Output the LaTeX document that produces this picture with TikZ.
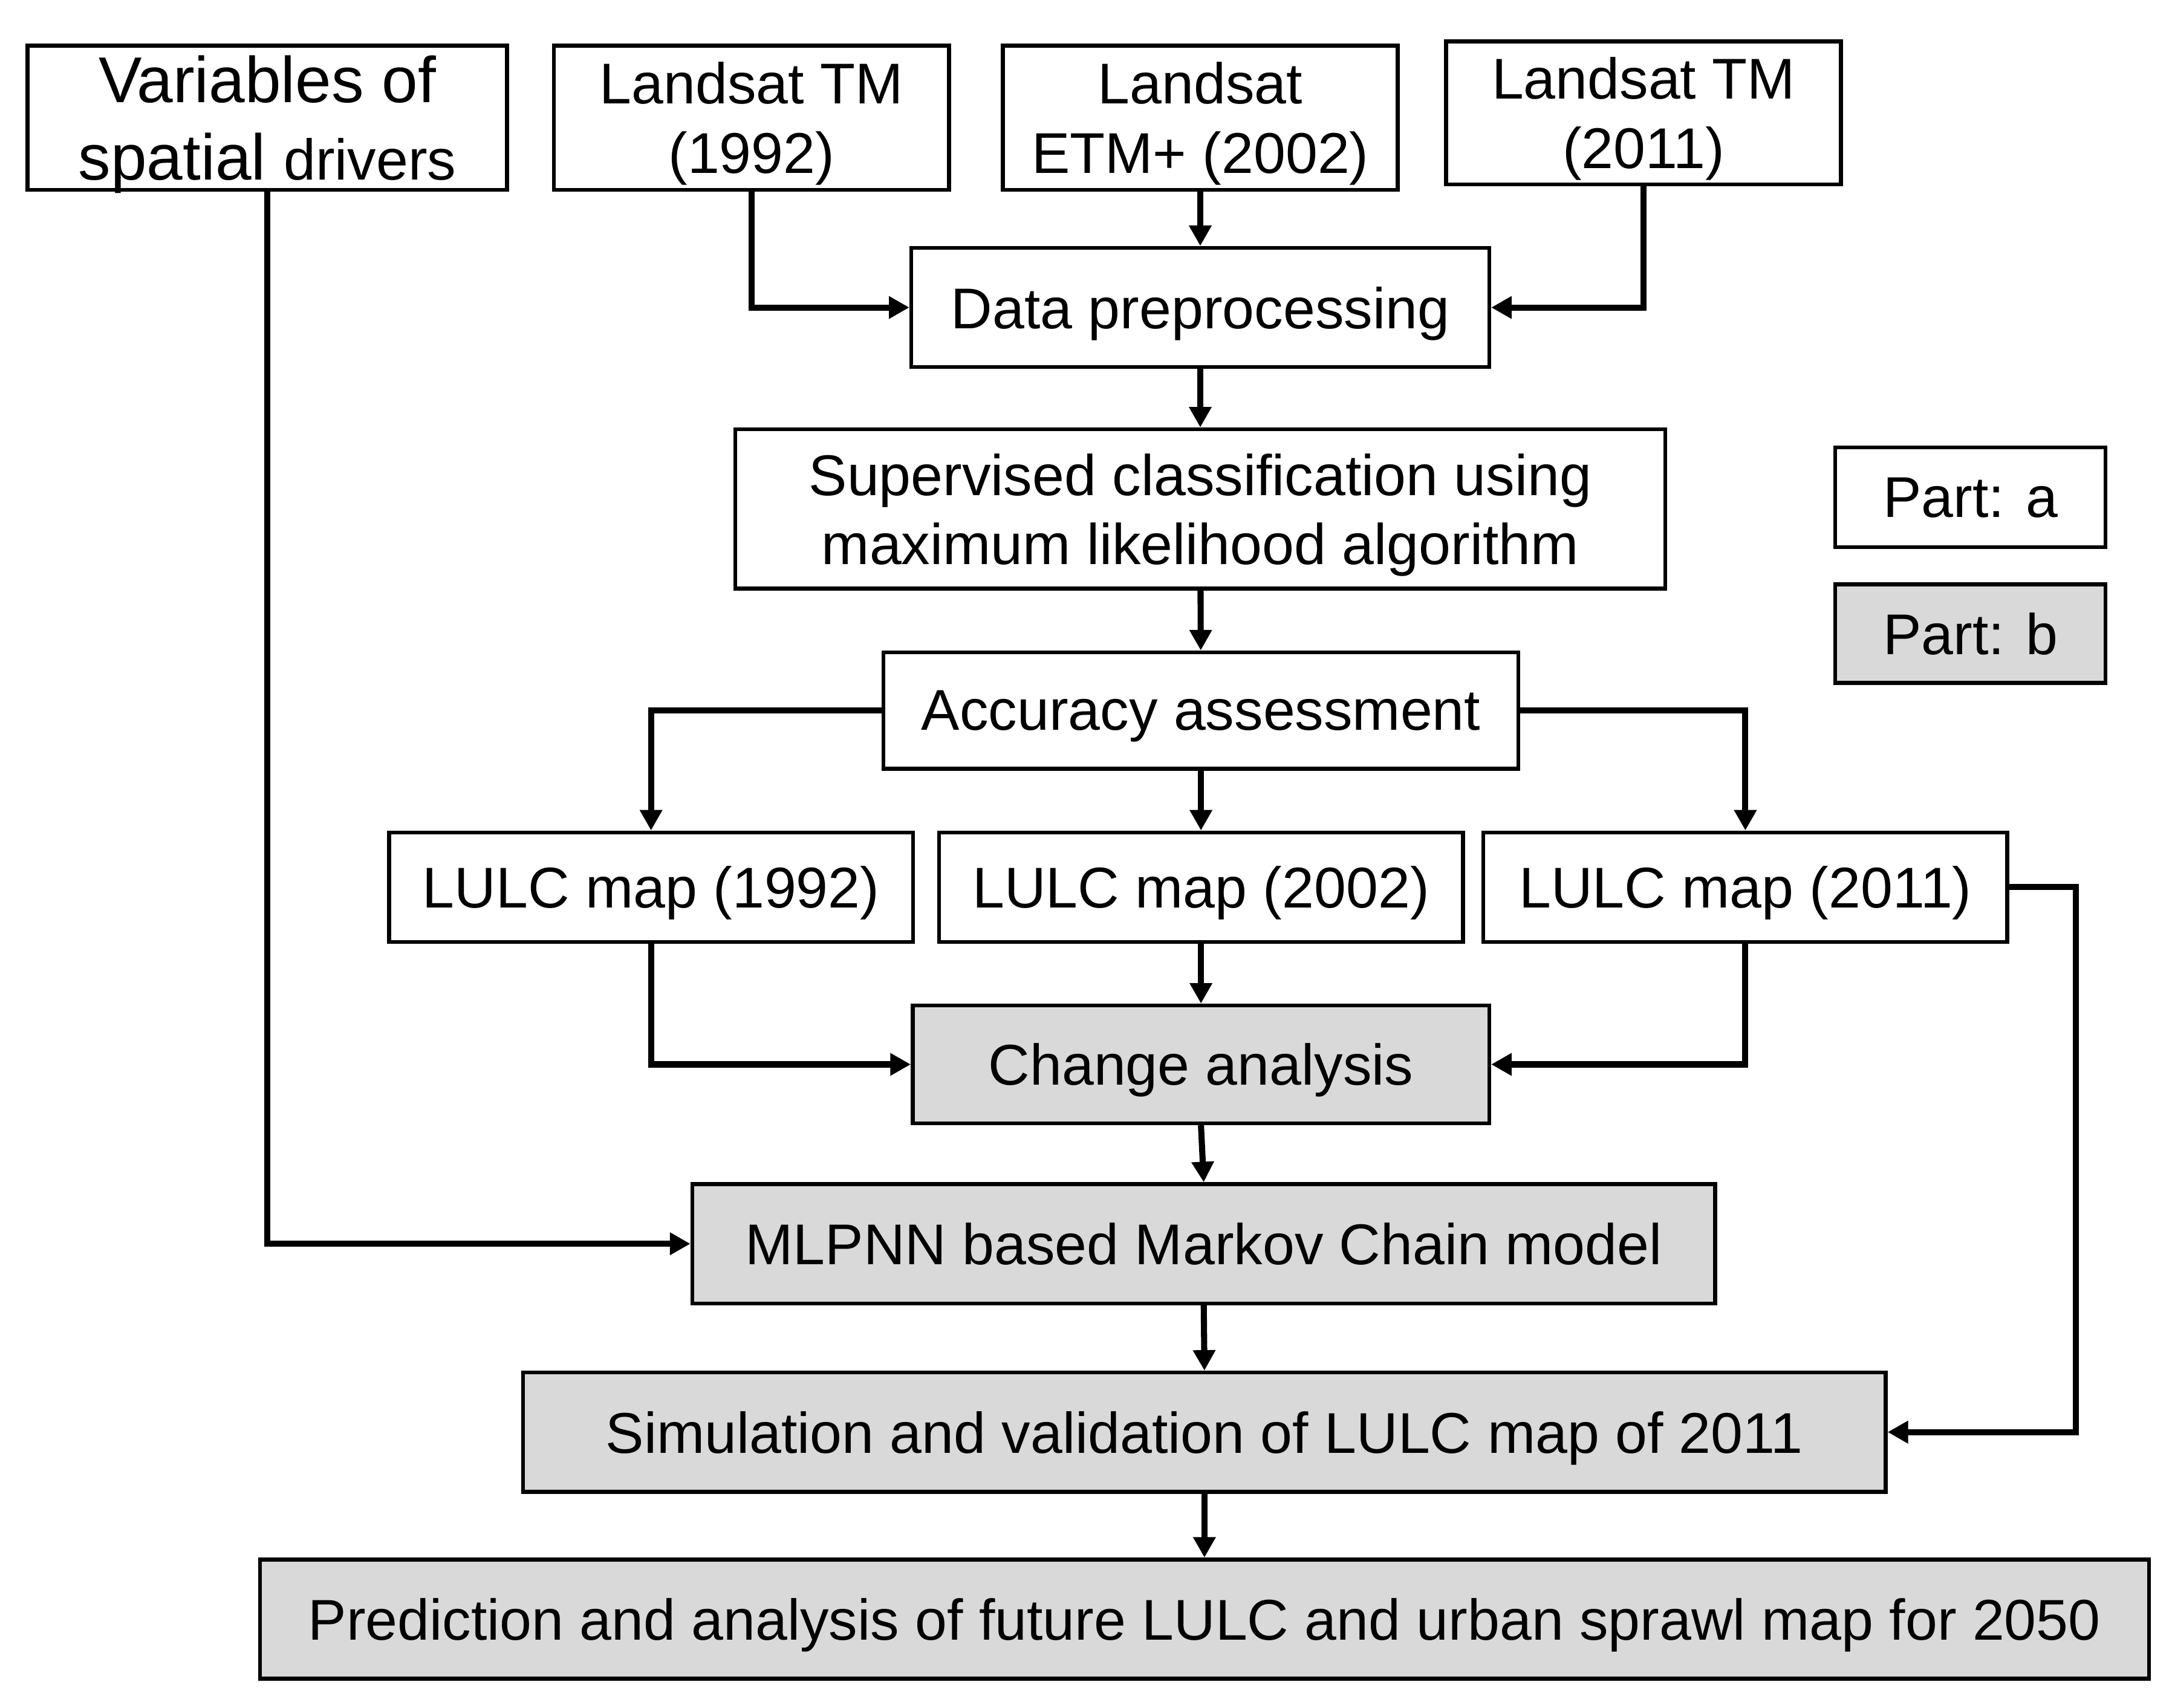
\documentclass[tikz,border=0pt]{standalone}
\usepackage{fontspec}
\setmainfont{Liberation Sans}
\usepackage{tikz}
\usetikzlibrary{arrows.meta, positioning}
\definecolor{partb}{HTML}{D9D9D9}

\begin{document}
\begin{tikzpicture}[x=0.01cm, y=-0.01cm,
		main/.style = {draw, line width=0.8pt, align=center, inner sep=0pt, text depth=-0.04cm, font=\fontsize{11.8}{14.2}\selectfont},
		grey/.style = {main, fill=partb},
		arr/.style = {line width=1.25pt, -{Triangle[length=4.2pt, width=4.4pt]}}]
		\useasboundingbox (0,0) rectangle (1568,1233);
		\node[main, minimum width=3.46cm, minimum height=1.04cm, font=\fontsize{13.3}{15.9}\selectfont] (vars) at (193,85) {Variables of\\spatial {\fontsize{11.8}{14.2}\selectfont drivers}};
		\node[main, minimum width=2.85cm, minimum height=1.04cm] (tm92) at (542.5,85) {Landsat TM\\(1992)};
		\node[main, minimum width=2.85cm, minimum height=1.04cm] (etm02) at (866.5,85) {Landsat\\ETM+ (2002)};
		\node[main, minimum width=2.85cm, minimum height=1.03cm] (tm11) at (1186.5,81.5) {Landsat TM\\(2011)};
		\node[main, minimum width=4.17cm, minimum height=0.86cm] (prep) at (866.5,222) {Data preprocessing};
		\node[main, minimum width=6.71cm, minimum height=1.15cm] (class) at (866.5,367.5) {Supervised classification using\\maximum likelihood algorithm};
		\node[main, minimum width=1.95cm, minimum height=0.72cm] (parta) at (1422.5,359) {Part: a};
		\node[grey, minimum width=1.95cm, minimum height=0.71cm] (partb) at (1422.5,457.5) {Part: b};
		\node[main, minimum width=4.58cm, minimum height=0.84cm] (acc) at (867,513) {Accuracy assessment};
		\node[main, minimum width=3.78cm, minimum height=0.79cm] (map92) at (470,640.5) {LULC map (1992)};
		\node[main, minimum width=3.78cm, minimum height=0.79cm] (map02) at (867,640.5) {LULC map (2002)};
		\node[main, minimum width=3.78cm, minimum height=0.79cm] (map11) at (1260,640.5) {LULC map (2011)};
		\node[grey, minimum width=4.16cm, minimum height=0.85cm] (change) at (867,768.5) {Change analysis};
		\node[grey, minimum width=7.38cm, minimum height=0.86cm] (mlpnn) at (869,898) {MLPNN based Markov Chain model};
		\node[grey, minimum width=9.83cm, minimum height=0.86cm] (sim) at (869.5,1034) {Simulation and validation of LULC map of 2011};
		\node[grey, minimum width=13.63cm, minimum height=0.86cm] (pred) at (869.5,1169) {Prediction and analysis of future LULC and urban sprawl map for 2050};
		\draw[arr] (vars) |- (mlpnn);
		\draw[arr] (tm92) |- (prep);
		\draw[arr] (etm02) -- (prep);
		\draw[arr] (tm11) |- (prep);
		\draw[arr] (prep) -- (class);
		\draw[arr] (class) -- (acc);
		\draw[arr] (acc) -| (map92);
		\draw[arr] (acc) -- (map02);
		\draw[arr] (acc) -| (map11);
		\draw[arr] (map92) |- (change);
		\draw[arr] (map02) -- (change);
		\draw[arr] (map11) |- (change);
		\draw[arr] (map11.east) -- ++(48,0) |- (sim);
		\draw[arr] (change.south) -- (mlpnn.north);
		\draw[arr] (mlpnn.south) -- (sim.north);
		\draw[arr] (sim.south) -- (pred.north);
	\end{tikzpicture}
\end{document}
